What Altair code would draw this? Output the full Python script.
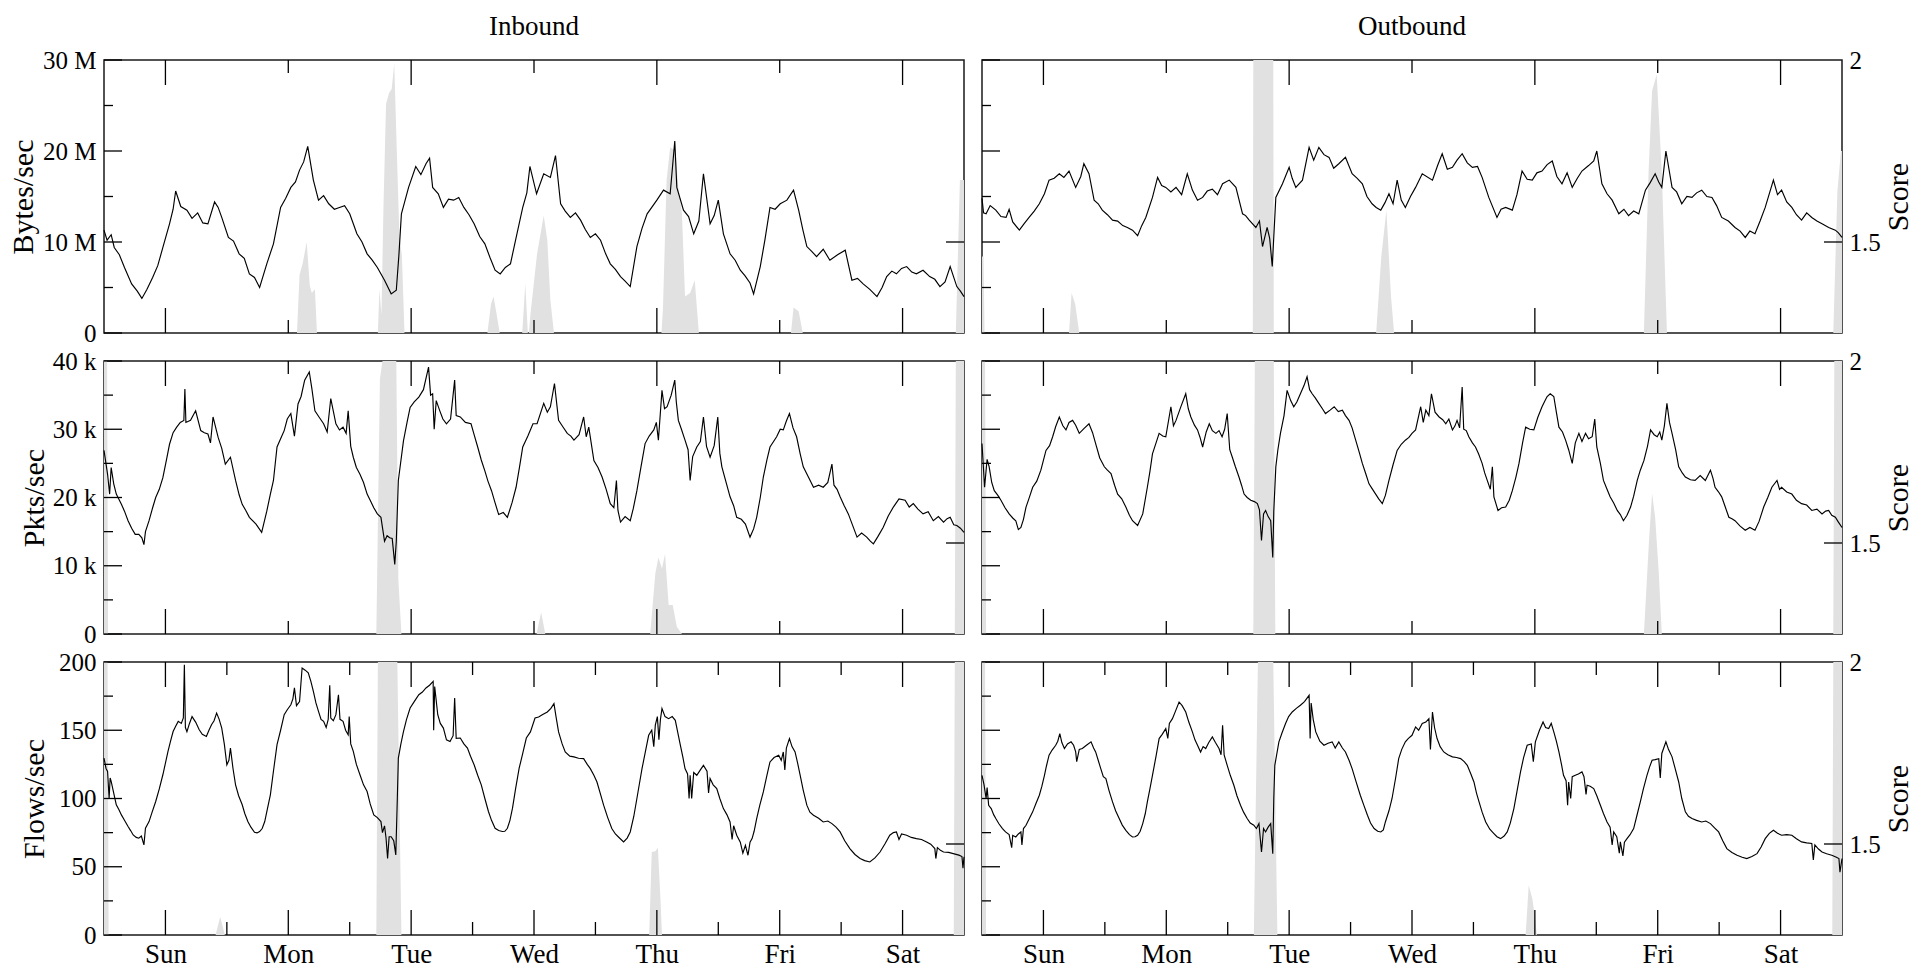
import altair as alt
import pandas as pd

# ---------------------------------------------------------------------------
# One week of traffic (hours since Sunday 00:00) and the anomaly score.
# Traffic series are (hour, value) pairs; score series are (hour, score).
# ---------------------------------------------------------------------------
DAYS = ["Sun", "Mon", "Tue", "Wed", "Thu", "Fri", "Sat"]

# Inbound bytes/sec, in millions
in_bytes = [
    (0, 11.3), (0.6, 10.2), (1.4, 10.8), (2, 9.4), (3, 8.6), (4, 7.2), (5.4, 5.4), (6.5, 4.6),
    (7.4, 3.8), (8.4, 4.8), (9.5, 6.1), (10.5, 7.4), (11.5, 9.4), (12.8, 12), (13.5, 13.6),
    (14, 15.6), (15, 13.9), (16.2, 13.5), (17.2, 12.6), (18.3, 13.2), (19.3, 12.1), (20.3, 12),
    (21.6, 14.4), (22.3, 13.8), (23, 12.7), (24.3, 10.5), (25.3, 10.1), (26.4, 8.7), (27.4, 8.2),
    (28.4, 6.5), (29.4, 6.1), (30.4, 5.0), (31.8, 7.6), (33.1, 9.8), (34.5, 13.8), (35.5, 14.8),
    (36.5, 16), (37.4, 16.6), (38.2, 17.9), (39, 18.8), (39.8, 20.5), (40.9, 16.8), (41.9, 14.6),
    (42.9, 15.1), (43.9, 14.2), (45, 13.6), (46, 13.8), (47, 14.0), (48, 13.1), (49.4, 10.9),
    (50.4, 10.0), (51.4, 8.7), (52.4, 8.0), (53.4, 7.2), (54.8, 5.8), (56.1, 4.3), (57.1, 4.7),
    (57.6, 8.5), (58.1, 13.1), (59.5, 16), (60.9, 18.3), (61.9, 17.4), (62.9, 18.6), (63.6, 19.2),
    (64.2, 16), (65.3, 15.3), (66.3, 13.8), (67.3, 14.7), (68.3, 14.6), (69.3, 14.9), (70.3, 13.8),
    (71.3, 13.0), (72.3, 12), (73.4, 10.6), (74.4, 9.8), (75.4, 8.3), (76.4, 6.9), (77.4, 6.5),
    (78.4, 7.2), (79.4, 7.6), (80.4, 10.2), (81.8, 13.8), (82.6, 15.4), (83.2, 18.3), (84.5, 15.3),
    (85.9, 17.5), (87.2, 17.1), (88.2, 19.5), (89.2, 14.2), (90.1, 13.4), (91.1, 12.7), (92.1, 13.2),
    (93.1, 12.4), (94, 11.4), (95, 10.5), (96, 10.9), (97, 10.2), (98, 8.7), (98.9, 7.6), (99.9, 7.0),
    (100.9, 6.2), (101.8, 5.7), (102.8, 5.1), (104.1, 9.5), (105.1, 11.5), (106.1, 13.1), (107, 13.8),
    (108, 14.6), (109.3, 15.7), (110.6, 15.3), (111.5, 21.1), (111.9, 16), (113.2, 13.5),
    (114.2, 12.8), (115.2, 10.9), (116.2, 12.3), (117.1, 17.5), (118.4, 12), (119.2, 12.9),
    (120, 14.6), (121, 10.9), (122.3, 8.7), (123.3, 8.0), (124.3, 6.9), (125.2, 6.3), (126.2, 5.5),
    (126.9, 4.3), (128.2, 7.3), (129.1, 10.2), (130.1, 13.8), (131.1, 13.6), (132.1, 14.2),
    (133.4, 14.6), (134.7, 15.7), (135.7, 13.5), (136.5, 11.4), (137.3, 9.5), (138.2, 9.0),
    (139.2, 8.4), (140.5, 9.2), (141.8, 8.0), (143.3, 8.6), (144.8, 9.1), (146.1, 5.8), (147.2, 6.0),
    (148.3, 5.4), (149.6, 4.8), (151, 4.0), (152, 5.0), (152.9, 6.2), (153.9, 6.8), (154.8, 6.5),
    (155.8, 7.1), (156.8, 7.3), (157.8, 6.7), (158.7, 6.5), (160, 6.9), (161.3, 6.2), (162.3, 5.9),
    (163.3, 5.1), (164.3, 5.6), (165.3, 7.3), (166.6, 5.1), (167.3, 4.6), (168, 4.0),
]

# Outbound bytes/sec, in millions
out_bytes = [
    (0, 14.8), (0.3, 13.2), (0.8, 13.1), (1.6, 14.0), (2.7, 13.5), (3.7, 12.8), (4.7, 12.7),
    (5.3, 13.6), (6, 12.2), (7.3, 11.3), (8.2, 12.0), (9.2, 12.7), (10.2, 13.4), (11.2, 14.2),
    (12.2, 15.3), (13.1, 16.8), (14.1, 17.0), (15.1, 17.5), (16, 17.1), (17, 17.8), (18.3, 16.0),
    (19.3, 17.2), (19.9, 18.6), (20.9, 17.5), (21.9, 14.6), (22.7, 14.2), (23.5, 13.5), (24.5, 13.0),
    (25.5, 12.4), (26.5, 12.3), (27.5, 11.8), (28.4, 11.6), (29.4, 11.3), (30.4, 10.7), (31.2, 11.8),
    (32, 12.7), (33.3, 14.9), (34.3, 17.1), (35.1, 16.2), (35.9, 16.0), (36.9, 15.5), (37.9, 16.0),
    (39, 15.2), (40.1, 17.5), (41.1, 15.7), (42.1, 14.6), (43.1, 14.9), (44, 15.6), (45, 15.8),
    (46, 15.2), (47, 16.4), (48.3, 16.8), (49.6, 16.0), (50.9, 13.1), (51.5, 12.9), (52.2, 12.4),
    (53.5, 11.6), (54.2, 12.3), (54.8, 9.5), (55.7, 11.6), (56.2, 10.4), (56.7, 7.3), (57.4, 14.9),
    (58.7, 16.4), (60, 18.2), (60.6, 17.0), (61.3, 16.0), (62.6, 16.8), (63.9, 20.4), (64.8, 19.0),
    (65.8, 20.4), (66.8, 19.6), (67.8, 19.3), (68.7, 18.1), (69.7, 18.6), (71, 19.3), (72.3, 17.5),
    (73.3, 17.0), (74.3, 16.4), (75.2, 15.0), (76.2, 14.2), (77, 13.8), (77.9, 13.5), (78.7, 14.3),
    (79.5, 15.3), (80.3, 14.2), (81.1, 16.8), (81.9, 14.6), (82.7, 13.8), (83.7, 15.0), (84.7, 16.0),
    (86, 17.5), (88, 16.8), (89, 18.4), (89.9, 19.7), (90.9, 18.0), (91.9, 18.2), (92.8, 19.0),
    (93.8, 19.7), (94.8, 18.7), (95.8, 18.2), (96.8, 18.3), (97.7, 17.1), (99, 14.9), (100.6, 12.7),
    (101.4, 13.6), (102.3, 13.8), (103.6, 13.5), (104.5, 15.2), (105.5, 17.8), (106.5, 16.9),
    (107.5, 16.8), (108.4, 17.6), (109.4, 17.8), (110.4, 18.5), (111.4, 18.9), (112.3, 17.2),
    (113.3, 16.4), (114.3, 17.6), (115.3, 16.0), (116.3, 17.0), (117.2, 17.8), (118.5, 18.4),
    (119.5, 18.9), (120.1, 20.0), (121.1, 16.4), (122.1, 15.3), (123.1, 14.6), (124.4, 13.1),
    (125.4, 13.6), (126.3, 12.9), (127.3, 13.4), (128.3, 13.1), (129.6, 15.7), (130.5, 16.5),
    (131.5, 17.5), (132.2, 16.6), (132.8, 16.0), (133.6, 20.0), (134.8, 16.0), (135.7, 15.5),
    (136.7, 14.2), (137.7, 15.0), (138.7, 14.9), (139.6, 15.4), (140.6, 15.7), (141.6, 15.0),
    (142.6, 14.9), (143.5, 14.0), (144.5, 12.7), (145.8, 12.3), (147.1, 11.6), (148.1, 11.2),
    (149.1, 10.5), (150, 11.2), (151, 10.9), (152, 12.3), (153, 13.8), (154.6, 16.8), (155.4, 15.2),
    (156.2, 15.7), (157.2, 14.4), (158.2, 13.8), (159.1, 13.0), (160.1, 12.4), (161.1, 13.2),
    (162.1, 12.7), (163.1, 12.3), (164.1, 12.0), (165.4, 11.6), (166.7, 11.3), (167.3, 11.0),
    (168, 10.5),
]

# Inbound packets/sec, in thousands
in_pkts = [
    (0, 26.9), (0.7, 23.4), (1.1, 20.5), (1.4, 24.4), (1.9, 22.0), (2.4, 20.5), (3.4, 19.0),
    (4, 18.0), (4.7, 16.6), (5.4, 15.5), (6.1, 14.6), (6.8, 14.6), (7.4, 14.1), (7.8, 13.1),
    (8.1, 15.0), (8.8, 16.6), (9.5, 18.5), (10.1, 20.0), (10.8, 21.2), (11.5, 22.9), (12.2, 25.5),
    (12.8, 27.8), (13.5, 29.5), (14.2, 30.3), (14.9, 31.0), (15.6, 31.3), (15.8, 35.9), (16.0, 31.0),
    (16.9, 31.3), (17.9, 32.7), (18.9, 29.8), (19.6, 29.5), (20.3, 29.3), (20.8, 28.0), (21.3, 31.8),
    (22.3, 28.8), (23, 27.2), (23.7, 24.9), (24.7, 25.9), (25.7, 22.5), (26.4, 20.4), (27, 19.0),
    (27.7, 18.1), (28.4, 17.1), (29.7, 16.1), (30.8, 14.9), (31.8, 18.0), (32.5, 20.5), (33.1, 22.5),
    (33.8, 27.4), (34.5, 28.6), (35.2, 29.8), (35.8, 31.5), (36.5, 32.3), (37.2, 29.0), (37.9, 33.7),
    (38.5, 34.8), (39.2, 37.2), (40.1, 38.4), (40.6, 36.0), (41.2, 32.7), (42, 31.8), (42.9, 30.8),
    (43.6, 29.6), (44.3, 34.5), (45.3, 30.8), (46, 29.9), (46.7, 30.3), (47.3, 29.4), (47.7, 32.7),
    (48.2, 27.5), (48.7, 25.9), (49.3, 24.4), (50, 23.4), (50.7, 22.2), (51.4, 20.5), (52, 19.6),
    (52.7, 18.5), (53.4, 17.6), (54.1, 17.1), (54.8, 13.6), (55.3, 14.4), (55.8, 14.1), (56.3, 14.0),
    (56.8, 10.2), (57.1, 13.6), (57.5, 22.5), (58.5, 28.3), (59.2, 31.0), (59.8, 33.2), (60.6, 34.0),
    (61.5, 34.7), (62.4, 35.8), (63.4, 39.1), (63.8, 35.0), (64.2, 35.2), (64.5, 30.0), (64.9, 34.2),
    (65.6, 32.7), (66.2, 31.5), (66.9, 30.8), (67.7, 31.5), (68.5, 37.2), (68.8, 32.0), (69.6, 31.8),
    (70.6, 31.0), (71.7, 30.8), (72.3, 29.2), (73, 27.4), (73.7, 25.5), (74.4, 23.9), (75, 22.4),
    (75.7, 21.0), (76.4, 19.2), (77.1, 17.5), (78, 17.8), (78.8, 17.1), (79.7, 19.2), (80.5, 21.5),
    (81.2, 24.6), (81.8, 27.4), (82.8, 29.0), (83.8, 30.8), (84.6, 30.8), (85.9, 33.8), (86.6, 32.5),
    (87.2, 33.3), (88, 36.7), (88.8, 31.3), (89.6, 30.4), (90.5, 29.4), (91.2, 29.0), (91.8, 28.4),
    (92.8, 29.2), (93.7, 31.8), (94.2, 28.9), (94.7, 30.3), (95.7, 25.4), (96.5, 24.4), (97.3, 23.0),
    (98.1, 21.2), (98.9, 19.1), (99.6, 18.5), (100.1, 22.5), (100.4, 18.1), (100.9, 16.4),
    (101.8, 17.2), (102.8, 16.6), (103.4, 18.4), (104.1, 21.0), (104.9, 24.5), (105.7, 27.9),
    (106.5, 29.0), (107.4, 29.9), (107.9, 31.0), (108.3, 28.4), (109, 35.7), (109.5, 33.0),
    (110, 33.3), (110.8, 35.0), (111.5, 37.2), (111.8, 34.0), (112.2, 31.3), (112.8, 30.0),
    (113.5, 28.4), (114.1, 27.0), (114.5, 22.5), (115, 26.0), (115.8, 27.4), (116.5, 28.2),
    (117.1, 31.8), (117.7, 27.5), (118.4, 25.9), (119.2, 27.6), (119.9, 31.8), (120.3, 26.5),
    (120.7, 24.5), (121.5, 22.3), (122.3, 20.1), (123, 18.8), (123.6, 17.1), (124.5, 16.8),
    (125.3, 16.1), (126.2, 14.2), (126.9, 15.4), (127.5, 17.1), (128.2, 20.0), (128.8, 23.0),
    (129.5, 25.5), (130.1, 27.4), (130.8, 28.2), (131.4, 28.9), (132.1, 30.0), (132.7, 29.9),
    (133.3, 31.2), (133.9, 32.3), (134.6, 30.2), (135.3, 28.9), (136, 26.4), (136.6, 24.5),
    (137.6, 23.0), (138.6, 21.5), (139.6, 21.8), (140.5, 21.5), (141.4, 22.2), (142.2, 24.9),
    (142.6, 21.8), (143.2, 21.2), (143.8, 20.1), (144.6, 18.8), (145.4, 17.6), (146.3, 15.8),
    (147.1, 14.2), (148, 14.8), (149, 14.2), (149.7, 13.6), (150.3, 13.2), (151.2, 14.3),
    (152.2, 15.6), (153.2, 17.3), (154.2, 18.6), (155.3, 19.8), (156.5, 19.6), (157.3, 18.6),
    (158.1, 19.1), (159, 18.3), (160, 17.6), (161, 17.9), (162, 16.6), (163, 17.2), (164, 16.4),
    (164.7, 16.9), (165.3, 17.1), (166, 16.0), (166.6, 15.9), (167.3, 15.5), (168, 14.9),
]

# Outbound packets/sec, in thousands
out_pkts = [
    (0, 27.9), (0.5, 21.5), (1.0, 25.6), (1.4, 24.5), (1.9, 22.2), (2.4, 21.0), (3.1, 20.3),
    (3.7, 19.6), (4.5, 18.5), (5.3, 17.6), (6.0, 17.0), (6.6, 16.6), (7.1, 15.3), (7.6, 15.6),
    (8.1, 16.8), (8.6, 18.6), (9.2, 19.9), (9.9, 21.5), (10.7, 22.4), (11.5, 24.0), (12.5, 26.9),
    (13.2, 27.6), (13.8, 28.9), (14.4, 30.4), (15.1, 31.8), (15.8, 30.5), (16.4, 29.9), (17.0, 31.0),
    (17.7, 31.3), (18.3, 30.6), (19, 29.4), (19.9, 30.1), (20.9, 30.8), (21.6, 29.5), (22.2, 27.9),
    (23.0, 25.8), (23.9, 24.5), (24.5, 24.0), (25.2, 23.5), (25.9, 21.8), (26.5, 20.5), (27.3, 19.8),
    (28.1, 18.6), (28.8, 17.4), (29.4, 16.6), (30.4, 15.9), (31.4, 17.6), (32.3, 21.5), (32.8, 23.8),
    (33.3, 26.4), (34.0, 28.0), (34.6, 29.4), (35.3, 29.0), (35.9, 28.9), (36.9, 33.3), (37.4, 30.5),
    (37.9, 31.3), (38.8, 33.2), (39.8, 35.2), (40.3, 33.0), (40.8, 31.8), (41.5, 30.6), (42.1, 29.9),
    (42.6, 28.8), (43.1, 27.4), (43.8, 29.6), (44.4, 30.8), (45.0, 29.8), (45.7, 29.4), (46.3, 29.8),
    (46.9, 28.9), (47.4, 30.0), (47.9, 32.3), (48.4, 27.0), (48.9, 25.9), (49.5, 24.5), (50.2, 23.0),
    (50.7, 21.8), (51.2, 20.5), (51.8, 20.0), (52.5, 19.6), (53.2, 19.4), (53.8, 19.1), (54.2, 18.2),
    (54.6, 13.7), (55.0, 17.6), (55.4, 18.1), (55.9, 17.2), (56.4, 16.6), (56.8, 11.2), (57.0, 18.0),
    (57.4, 24.5), (57.8, 27.0), (58.3, 29.4), (59.0, 32.0), (59.6, 35.7), (60.3, 34.2), (60.9, 33.3),
    (61.5, 34.0), (62.2, 35.2), (62.9, 36.4), (63.5, 37.7), (64.0, 35.8), (64.5, 35.2), (65.1, 34.6),
    (65.8, 33.8), (66.5, 33.0), (67.1, 32.3), (68.0, 32.8), (68.8, 33.3), (69.6, 32.6), (70.4, 32.8),
    (71.0, 32.0), (71.7, 31.3), (72.3, 30.2), (73.0, 28.4), (73.7, 26.6), (74.3, 25.0), (75.0, 23.4),
    (75.6, 22.0), (76.3, 21.2), (76.9, 20.5), (77.5, 19.8), (78.2, 19.1), (78.8, 20.3), (79.5, 22.5),
    (80.3, 24.8), (81.1, 26.9), (81.9, 27.8), (82.7, 28.4), (83.4, 28.8), (84.0, 29.4), (84.7, 29.9),
    (85.7, 33.3), (86.2, 31.0), (86.7, 32.8), (87.3, 32.0), (87.8, 35.2), (88.5, 32.5), (89.3, 31.8),
    (90.0, 31.4), (90.6, 30.8), (91.2, 31.5), (91.9, 29.9), (92.4, 30.5), (92.8, 31.3), (93.3, 30.2),
    (93.8, 36.2), (94.1, 30.0), (94.6, 29.8), (95.1, 28.9), (95.8, 28.0), (96.4, 27.4), (97.0, 26.4),
    (97.7, 25.0), (98.2, 23.6), (98.7, 22.5), (99.3, 21.2), (99.7, 24.5), (100.0, 20.1),
    (100.8, 18.1), (101.5, 18.5), (102.3, 18.6), (103.0, 19.6), (103.6, 21.0), (104.3, 23.0),
    (104.9, 25.0), (105.6, 28.0), (106.2, 30.3), (107.0, 30.0), (107.8, 29.9), (108.6, 31.8),
    (109.4, 33.3), (110.0, 34.2), (110.4, 34.8), (111.0, 35.2), (111.7, 34.8), (112.2, 32.5),
    (112.7, 30.3), (113.4, 29.6), (114.0, 28.4), (114.6, 27.0), (115.3, 25.0), (115.9, 28.0),
    (116.6, 29.4), (117.2, 28.2), (117.9, 29.4), (118.5, 28.6), (119.2, 28.9), (119.7, 31.5),
    (120.1, 27.4), (120.8, 25.0), (121.4, 22.5), (122.1, 21.2), (122.7, 20.1), (123.4, 19.2),
    (124.1, 18.1), (124.7, 17.5), (125.3, 16.6), (126.0, 17.4), (126.7, 18.6), (127.3, 20.2),
    (128.0, 22.5), (128.6, 24.0), (129.3, 25.4), (130.0, 27.5), (130.6, 29.9), (131.3, 29.2),
    (131.9, 28.9), (132.4, 29.6), (132.8, 28.4), (133.3, 30.5), (133.8, 33.8), (134.3, 31.0),
    (134.8, 29.4), (135.5, 27.0), (136.1, 24.5), (136.8, 23.6), (137.4, 23.0), (138.4, 22.6),
    (139.3, 22.5), (140.3, 23.2), (141.3, 22.5), (142.3, 24.0), (142.8, 22.8), (143.2, 21.5),
    (143.9, 20.8), (144.5, 20.1), (145.2, 18.6), (145.9, 17.1), (146.5, 16.9), (147.1, 16.6),
    (148.1, 15.8), (149.1, 15.2), (150.0, 15.6), (151.0, 15.2), (151.8, 16.5), (152.7, 18.6),
    (153.5, 20.0), (154.3, 21.5), (155.3, 22.5), (155.8, 21.2), (156.2, 21.5), (157.2, 20.8),
    (158.2, 20.5), (159.1, 19.6), (160.1, 19.1), (161.1, 18.9), (162.1, 18.1), (163.1, 18.3),
    (164.1, 17.6), (164.8, 18.0), (165.4, 18.1), (166.0, 17.4), (166.7, 17.1), (167.3, 16.4),
    (168, 15.6),
]

# Inbound flows/sec
in_flows = [
    (0, 129.6), (0.4, 122.0), (0.7, 119.8), (1.0, 100.0), (1.2, 115.0), (1.4, 112.5), (1.9, 104.0),
    (2.4, 95.4), (2.9, 92.0), (3.4, 88.0), (4.0, 84.0), (4.7, 79.5), (5.2, 76.5), (5.7, 73.3),
    (6.3, 71.5), (6.8, 70.9), (7.3, 72.5), (7.8, 66.0), (8.1, 78.2), (8.8, 83.1), (9.4, 90.0),
    (10.1, 97.8), (10.8, 107.0), (11.5, 117.4), (12.0, 126.0), (12.5, 134.5), (13.0, 142.0),
    (13.5, 149.1), (14.0, 153.0), (14.5, 156.5), (15.1, 155.0), (15.5, 159.0), (15.7, 198.0),
    (15.9, 152.0), (16.2, 149.0), (16.7, 155.0), (17.2, 160.0), (17.9, 156.0), (18.6, 150.4),
    (19.2, 147.0), (20.0, 145.5), (20.5, 150.0), (21.0, 154.0), (21.5, 157.0), (22.0, 162.6),
    (22.5, 158.0), (23.0, 151.6), (23.5, 140.0), (24.0, 124.7), (24.4, 128.0), (24.7, 136.9),
    (25.2, 122.0), (25.7, 110.0), (26.3, 102.0), (27.0, 95.4), (27.5, 89.0), (28.1, 83.1),
    (28.7, 79.0), (29.4, 75.3), (29.9, 74.8), (30.4, 75.8), (30.9, 78.0), (31.4, 83.1), (31.9, 92.0),
    (32.5, 102.7), (33.1, 120.0), (33.8, 139.4), (34.5, 150.0), (35.2, 161.4), (35.8, 165.0),
    (36.5, 168.7), (36.9, 173.0), (37.2, 181.0), (37.6, 168.0), (38.2, 171.0), (38.7, 195.6),
    (39.3, 194.0), (39.9, 192.0), (40.4, 186.0), (40.9, 178.5), (41.4, 170.0), (41.9, 163.8),
    (42.4, 158.0), (42.9, 156.5), (43.4, 152.0), (43.8, 158.0), (44.1, 183.0), (44.3, 158.9),
    (44.8, 157.0), (45.3, 161.4), (45.8, 176.0), (46.1, 158.0), (46.7, 156.5), (47.2, 150.0),
    (47.7, 146.7), (47.9, 160.0), (48.2, 140.0), (48.7, 134.5), (49.3, 125.0), (50.0, 117.4),
    (50.7, 110.0), (51.4, 105.1), (52.0, 96.0), (52.7, 88.0), (53.4, 86.0), (54.1, 83.1),
    (54.4, 75.0), (54.8, 80.0), (55.1, 70.9), (55.4, 56.0), (55.7, 72.0), (56.1, 72.0), (56.6, 69.0),
    (57.0, 58.7), (57.3, 100.0), (57.5, 129.6), (58.0, 140.0), (58.5, 149.0), (59.1, 158.0),
    (59.8, 166.3), (60.6, 171.0), (61.5, 176.0), (62.2, 178.0), (62.9, 181.0), (63.6, 183.0),
    (64.3, 185.8), (64.4, 150.0), (64.6, 182.0), (65.2, 161.4), (65.7, 155.0), (66.3, 151.6),
    (66.9, 143.0), (67.6, 141.8), (68.2, 146.0), (68.5, 173.6), (68.8, 144.0), (69.6, 144.3),
    (70.3, 140.0), (71.0, 136.9), (71.6, 131.0), (72.3, 124.7), (73.0, 117.0), (73.7, 110.0),
    (74.4, 100.0), (75.1, 90.5), (75.7, 84.0), (76.4, 78.2), (77.1, 76.5), (77.8, 75.8), (78.3, 76.0),
    (78.8, 78.2), (79.3, 84.0), (79.8, 92.9), (80.4, 107.0), (81.1, 122.2), (81.8, 133.0),
    (82.5, 144.3), (83.3, 148.8), (84.2, 159.0), (84.9, 159.7), (85.7, 161.5), (86.6, 163.4),
    (87.3, 166.0), (87.9, 169.5), (88.3, 160.0), (88.8, 148.8), (89.5, 140.0), (90.1, 134.1),
    (91.0, 131.0), (91.8, 130.5), (92.7, 129.5), (93.7, 129.2), (94.4, 125.0), (95.0, 121.9),
    (95.7, 117.0), (96.3, 112.1), (97.0, 103.0), (97.6, 95.1), (98.4, 86.0), (99.2, 78.0),
    (99.9, 74.0), (100.5, 71.8), (101.5, 68.2), (102.2, 71.0), (102.8, 75.5), (103.5, 87.0),
    (104.1, 100.0), (104.6, 111.0), (105.1, 121.9), (105.8, 135.0), (106.4, 146.3), (107.0, 150.0),
    (107.4, 138.0), (107.7, 153.7), (108.1, 160.0), (108.4, 143.0), (108.7, 158.0), (109.0, 165.9),
    (109.6, 160.0), (110.3, 158.5), (111.0, 160.0), (111.6, 157.3), (112.1, 148.0), (112.6, 139.0),
    (113.1, 130.0), (113.5, 121.9), (114.0, 118.0), (114.3, 100.0), (114.5, 117.0), (114.8, 100.0),
    (115.2, 119.0), (115.8, 117.0), (116.5, 121.0), (117.1, 124.3), (117.8, 120.0), (118.1, 104.0),
    (118.4, 114.6), (119.0, 110.0), (119.7, 107.3), (120.3, 100.0), (121.0, 92.6), (121.7, 88.0),
    (122.3, 82.8), (122.7, 70.0), (123.0, 80.0), (123.6, 73.1), (124.3, 68.0), (124.8, 60.0),
    (125.3, 65.7), (125.8, 58.4), (126.2, 68.0), (126.6, 70.6), (127.0, 76.0), (127.5, 85.3),
    (128.1, 95.0), (128.8, 104.8), (129.5, 117.0), (130.1, 126.8), (130.9, 130.0), (131.8, 131.7),
    (132.3, 128.0), (132.7, 134.1), (133.0, 121.0), (133.3, 137.0), (133.9, 143.9), (134.4, 138.0),
    (135.0, 134.1), (135.5, 126.0), (136.0, 117.0), (136.6, 106.0), (137.3, 95.1), (137.9, 90.0),
    (138.6, 87.7), (139.6, 85.5), (140.5, 82.8), (141.4, 83.5), (142.2, 81.6), (143.0, 79.0),
    (143.8, 75.5), (144.7, 69.0), (145.7, 63.3), (146.7, 59.0), (147.7, 56.0), (148.6, 54.5),
    (149.6, 53.5), (150.6, 56.5), (151.6, 60.8), (152.6, 67.0), (153.5, 73.1), (154.2, 75.0),
    (154.8, 75.5), (155.3, 70.0), (155.8, 74.0), (156.8, 73.1), (157.7, 71.5), (158.7, 70.6),
    (159.7, 70.0), (160.7, 68.2), (161.5, 66.5), (162.3, 63.3), (162.5, 56.0), (162.8, 64.0),
    (163.4, 62.0), (164.0, 60.8), (165.0, 60.5), (165.9, 59.6), (167.0, 58.5), (167.6, 57.5),
    (167.8, 49.0), (168, 57.2),
]

# Outbound flows/sec
out_flows = [
    (0, 117.0), (0.4, 110.0), (0.8, 100.0), (1.0, 108.0), (1.3, 95.0), (1.8, 92.6), (2.3, 88.0),
    (2.7, 85.3), (3.3, 81.5), (4.0, 78.0), (4.6, 75.5), (5.3, 73.6), (5.8, 64.0), (6.0, 73.0),
    (6.6, 71.8), (7.1, 74.0), (7.6, 75.5), (7.8, 66.0), (8.1, 78.0), (8.6, 80.4), (9.2, 85.0),
    (9.9, 90.2), (10.5, 96.0), (11.2, 102.4), (11.7, 109.0), (12.2, 117.0), (12.6, 124.0),
    (13.1, 131.7), (13.7, 135.5), (14.4, 139.0), (14.8, 142.0), (15.2, 147.5), (15.6, 141.0),
    (16.1, 136.6), (16.7, 140.0), (17.4, 141.5), (17.9, 139.0), (18.3, 134.1), (18.5, 127.0),
    (19.0, 136.0), (19.6, 136.6), (20.4, 139.0), (21.3, 141.5), (21.8, 137.0), (22.2, 134.1),
    (22.7, 128.0), (23.2, 121.9), (23.7, 116.0), (24.2, 114.6), (24.8, 106.0), (25.5, 97.5),
    (26.1, 91.0), (26.8, 85.3), (27.4, 80.5), (28.1, 76.7), (28.8, 73.5), (29.4, 71.8), (29.9, 72.0),
    (30.4, 73.1), (30.9, 76.0), (31.4, 81.6), (31.9, 89.0), (32.3, 97.5), (32.8, 107.0),
    (33.3, 117.0), (34.0, 131.0), (34.6, 143.9), (35.2, 147.0), (35.9, 151.2), (36.3, 144.0),
    (36.6, 155.0), (37.2, 158.5), (37.8, 164.0), (38.5, 170.7), (39.1, 168.0), (39.8, 163.4),
    (40.4, 156.0), (41.1, 148.8), (41.6, 143.0), (42.1, 139.0), (42.7, 134.0), (43.2, 138.0),
    (43.7, 136.6), (44.3, 141.0), (45.0, 145.1), (45.6, 141.0), (46.3, 136.6), (46.7, 132.0),
    (47.0, 153.7), (47.3, 132.0), (47.9, 124.3), (48.5, 117.0), (49.2, 109.7), (49.8, 102.0),
    (50.5, 95.1), (51.1, 90.0), (51.8, 85.3), (52.4, 82.0), (53.1, 80.4), (53.6, 78.0), (54.1, 81.6),
    (54.6, 60.8), (55.0, 78.0), (55.4, 75.5), (55.9, 79.0), (56.4, 81.6), (56.8, 59.6), (57.0, 100.0),
    (57.2, 124.3), (58.0, 141.5), (58.6, 148.0), (59.3, 154.9), (59.9, 160.0), (60.6, 163.4),
    (61.4, 166.0), (62.2, 168.3), (63.0, 171.0), (63.9, 175.6), (64.1, 143.9), (64.3, 170.0),
    (64.7, 158.0), (65.2, 148.8), (66.0, 142.0), (66.8, 139.0), (67.6, 140.5), (68.4, 141.5),
    (69.0, 137.0), (69.7, 141.5), (70.4, 137.0), (71.0, 134.1), (71.7, 128.0), (72.3, 121.9),
    (73.1, 112.0), (73.9, 102.4), (74.6, 95.0), (75.3, 87.7), (75.9, 82.0), (76.6, 78.0),
    (77.3, 76.0), (77.9, 75.5), (78.4, 77.0), (78.8, 82.8), (79.5, 91.0), (80.1, 100.0),
    (80.8, 115.0), (81.4, 129.2), (82.0, 136.0), (82.7, 141.5), (83.3, 144.0), (84.0, 146.3),
    (84.7, 152.4), (85.3, 150.0), (86.0, 154.9), (86.7, 156.0), (87.3, 158.5), (87.6, 136.0),
    (88.0, 163.4), (88.4, 152.0), (88.9, 143.9), (89.5, 138.0), (90.2, 134.1), (91.0, 132.0),
    (91.9, 130.5), (92.7, 130.0), (93.5, 129.2), (94.2, 127.0), (94.8, 124.3), (95.5, 118.0),
    (96.1, 112.1), (96.6, 104.0), (97.1, 97.5), (97.7, 90.0), (98.4, 82.8), (99.2, 77.5),
    (100.0, 74.3), (100.6, 72.0), (101.3, 70.6), (102.0, 72.5), (102.6, 75.5), (103.2, 82.0),
    (103.9, 92.6), (104.5, 105.0), (105.2, 119.5), (105.8, 130.0), (106.5, 139.0), (107.3, 140.0),
    (107.7, 127.0), (108.1, 141.5), (108.9, 150.0), (109.6, 156.1), (110.1, 152.0), (110.7, 151.2),
    (111.2, 155.0), (111.7, 148.8), (112.2, 142.0), (112.7, 134.1), (113.2, 125.0), (113.6, 117.0),
    (114.1, 113.0), (114.4, 95.0), (114.6, 112.1), (115.0, 100.0), (115.3, 116.0), (115.9, 117.0),
    (116.5, 118.0), (117.2, 119.5), (117.6, 116.0), (118.0, 103.0), (118.2, 109.7), (118.8, 109.0),
    (119.5, 107.3), (120.1, 102.0), (120.8, 95.1), (121.4, 89.0), (122.1, 82.8), (122.7, 79.0),
    (123.1, 66.0), (123.4, 75.5), (124.0, 72.0), (124.5, 60.0), (124.7, 68.2), (125.2, 58.0),
    (125.5, 68.0), (126.0, 70.6), (126.6, 73.5), (127.3, 78.0), (127.9, 87.0), (128.6, 97.5),
    (129.2, 107.0), (129.9, 117.0), (130.4, 123.0), (130.9, 128.0), (131.5, 128.5), (132.2, 129.2),
    (132.5, 115.0), (132.8, 133.0), (133.6, 141.5), (134.1, 136.0), (134.8, 130.5), (135.4, 122.0),
    (136.1, 112.1), (136.7, 100.0), (137.4, 90.2), (138.0, 87.0), (138.7, 85.3), (139.6, 84.0),
    (140.6, 82.8), (141.4, 83.5), (142.3, 81.6), (143.1, 78.5), (143.9, 75.5), (144.7, 69.0),
    (145.5, 63.3), (146.5, 60.5), (147.5, 58.4), (148.5, 57.0), (149.4, 56.0), (150.4, 57.5),
    (151.4, 59.6), (152.2, 64.5), (153.0, 70.6), (153.8, 74.5), (154.6, 76.7), (155.4, 74.5),
    (156.2, 73.1), (157.2, 73.5), (158.2, 73.1), (159.1, 70.5), (160.1, 68.2), (161.1, 67.5),
    (162.1, 67.0), (162.4, 55.0), (162.7, 66.0), (163.4, 63.0), (164.1, 60.8), (165.0, 59.5),
    (166.0, 58.4), (166.8, 57.2), (167.4, 56.0), (167.6, 46.0), (168, 56.0),
]

# Anomaly scores (right axis, 1.25 .. 2)
in_bytes_score = [
    (0, 1.25), (37.7, 1.25), (38.2, 1.41), (38.8, 1.44), (39.6, 1.5), (40.2, 1.38), (40.6, 1.36),
    (41.2, 1.37), (41.6, 1.25), (53.5, 1.25), (53.8, 1.37), (54.2, 1.3), (54.6, 1.6), (55.1, 1.88),
    (55.7, 1.91), (56.2, 1.92), (56.7, 1.99), (57.2, 1.75), (57.7, 1.52), (58.2, 1.46), (58.7, 1.25),
    (74.9, 1.25), (75.6, 1.33), (76.1, 1.35), (76.6, 1.31), (77.3, 1.25), (81.7, 1.25), (82.3, 1.385),
    (82.8, 1.25), (83.0, 1.25), (83.3, 1.30), (84.6, 1.468), (85.9, 1.573), (86.6, 1.505),
    (87.2, 1.34), (87.9, 1.25), (108.9, 1.25), (109.2, 1.32), (109.9, 1.669), (110.6, 1.76),
    (111.6, 1.75), (112.2, 1.65), (112.9, 1.578), (113.5, 1.35), (114.5, 1.36), (115.4, 1.395),
    (116.2, 1.25), (134.2, 1.25), (134.7, 1.32), (135.7, 1.31), (136.5, 1.25), (166.4, 1.25),
    (167.2, 1.67), (168, 1.67),
]
out_bytes_score = [
    (0, 1.46), (0.3, 1.46), (0.5, 1.25), (17.0, 1.25), (17.5, 1.36), (18.2, 1.33), (19.0, 1.25),
    (52.9, 1.25), (53.0, 2.0), (56.9, 2.0), (57.0, 1.25), (77.0, 1.25), (78.0, 1.46), (79.0, 1.587),
    (79.9, 1.35), (80.5, 1.25), (129.3, 1.25), (130.2, 1.687), (130.9, 1.915), (131.8, 1.96),
    (132.8, 1.69), (133.8, 1.25), (166.3, 1.25), (167.1, 1.64), (167.8, 1.75), (168, 1.75),
]
in_pkts_score = [
    (0, 2.0), (0.6, 2.0), (0.8, 1.25), (53.2, 1.25), (53.9, 1.95), (54.4, 2.0), (57.1, 2.0),
    (57.5, 1.40), (58.1, 1.25), (84.5, 1.25), (85.4, 1.31), (86.2, 1.25), (106.7, 1.25),
    (107.7, 1.416), (108.3, 1.46), (109.0, 1.43), (109.6, 1.47), (110.3, 1.33), (111.1, 1.33),
    (111.9, 1.27), (112.9, 1.25), (166.2, 1.25), (166.4, 2.0), (168, 2.0),
]
out_pkts_score = [
    (0, 2.0), (0.6, 2.0), (0.8, 1.25), (53.0, 1.25), (53.3, 2.0), (57.0, 2.0), (57.3, 1.25),
    (129.3, 1.25), (130.3, 1.507), (130.9, 1.636), (131.5, 1.57), (132.2, 1.42), (132.8, 1.25),
    (166.3, 1.25), (166.5, 2.0), (168, 2.0),
]
in_flows_score = [
    (0, 2.0), (0.7, 2.0), (0.9, 1.25), (21.8, 1.25), (22.7, 1.30), (23.6, 1.25), (53.2, 1.25),
    (53.5, 2.0), (57.3, 2.0), (58.1, 1.25), (106.5, 1.25), (107.0, 1.478), (107.7, 1.48),
    (108.2, 1.49), (108.7, 1.35), (109.0, 1.25), (166.0, 1.25), (166.2, 2.0), (168, 2.0),
]
out_flows_score = [
    (0, 2.0), (0.6, 2.0), (0.8, 1.25), (53.1, 1.25), (53.9, 2.0), (56.9, 2.0), (57.7, 1.25),
    (106.2, 1.25), (106.8, 1.387), (107.5, 1.35), (108.0, 1.30), (108.4, 1.25), (166.1, 1.25),
    (166.3, 2.0), (168, 2.0),
]

# Axis settings for each metric row
ROWS = [
    dict(title="Bytes/sec", domain=[0, 30], major=[0, 10, 20, 30], minor=[5, 15, 25], unit=" M",
         series=(in_bytes, out_bytes), scores=(in_bytes_score, out_bytes_score), title_x=-81),
    dict(title="Pkts/sec", domain=[0, 40], major=[0, 10, 20, 30, 40], minor=[5, 15, 25, 35], unit=" k",
         series=(in_pkts, out_pkts), scores=(in_pkts_score, out_pkts_score), title_x=-70),
    dict(title="Flows/sec", domain=[0, 200], major=[0, 50, 100, 150, 200], minor=[25, 75, 125, 175], unit="",
         series=(in_flows, out_flows), scores=(in_flows_score, out_flows_score), title_x=-70),
]
COLUMNS = ["Inbound", "Outbound"]
SCORE_DOMAIN = [1.25, 2]
SCORE_LABELS = [1.5, 2]

FONT = "Liberation Serif"
TICK_SIZE = 25
TEXT_SIZE = 27
TITLE_SIZE = 30
W, H = 860, 273
GREY = "#e1e1e1"
INK = "black"
LONG_TICK, SHORT_TICK, Y_LONG, Y_SHORT = 25, 13, 18, 9

NOONS = [12 + 24 * i for i in range(len(DAYS))]
MIDNIGHTS = [24 * i for i in range(1, len(DAYS))]
DAY_EXPR = "[" + ",".join("'%s'" % d for d in DAYS) + "][floor(datum.value / 24)]"


def tick_rules(df, enc_field, scale, length, side, x_axis=None):
    """Inward-pointing tick marks drawn as rules."""
    base = alt.Chart(df).mark_rule(color=INK, strokeWidth=1.3)
    if side == "top":
        return base.encode(x=alt.X(enc_field, scale=scale, axis=x_axis), y=alt.value(0), y2=alt.value(length))
    if side == "bottom":
        return base.encode(x=alt.X(enc_field, scale=scale, axis=x_axis), y=alt.value(H), y2=alt.value(H - length))
    if side == "left":
        return base.encode(y=alt.Y(enc_field, scale=scale, axis=None), x=alt.value(0), x2=alt.value(length))
    return base.encode(y=alt.Y(enc_field, scale=scale, axis=None), x=alt.value(W - length), x2=alt.value(W))


def panel(row_idx, col_idx):
    row = ROWS[row_idx]
    bottom = row_idx == len(ROWS) - 1
    xscale = alt.Scale(domain=[0, 168], nice=False, zero=False)
    yscale = alt.Scale(domain=row["domain"], nice=False, zero=False)
    sscale = alt.Scale(domain=SCORE_DOMAIN, nice=False, zero=False)

    line_df = pd.DataFrame(row["series"][col_idx], columns=["hour", "value"])
    score_df = pd.DataFrame(row["scores"][col_idx], columns=["hour", "score"])

    if col_idx == 1:
        score_axis = alt.Axis(
            orient="right", values=SCORE_LABELS, format="~g", ticks=False, domain=False, grid=False,
            labelFont=FONT, labelFontSize=TICK_SIZE, labelColor=INK, labelPadding=7, labelOverlap=False,
            title="Score", titleFont=FONT, titleFontSize=TITLE_SIZE, titleFontWeight="normal",
            titleColor=INK, titleAngle=270, titleX=56, titleY=H / 2, titleAlign="center",
            titleBaseline="middle",
        )
    else:
        score_axis = None

    if col_idx == 0:
        label_expr = "datum.value == 0 ? '0' : datum.value + '%s'" % row["unit"]
        value_axis = alt.Axis(
            values=row["major"], labelExpr=label_expr, ticks=False, domain=False, grid=False,
            labelFont=FONT, labelFontSize=TICK_SIZE, labelColor=INK, labelPadding=8, labelOverlap=False,
            title=row["title"], titleFont=FONT, titleFontSize=TITLE_SIZE, titleFontWeight="normal",
            titleColor=INK, titleAngle=270, titleX=row["title_x"], titleY=H / 2, titleAlign="center",
            titleBaseline="middle",
        )
    else:
        value_axis = None

    if bottom:
        x_axis = alt.Axis(
            values=NOONS, labelExpr=DAY_EXPR, ticks=False, domain=False, grid=False,
            labelFont=FONT, labelFontSize=TEXT_SIZE, labelColor=INK, labelPadding=6,
            labelOverlap=False, labelFlush=False, title=None,
        )
    else:
        x_axis = None

    area = alt.Chart(score_df).mark_area(color=GREY, opacity=1).encode(
        x=alt.X("hour:Q", scale=xscale, axis=x_axis),
        y=alt.Y("score:Q", scale=sscale, axis=score_axis),
        y2=alt.datum(SCORE_DOMAIN[0]),
    )
    line = alt.Chart(line_df).mark_line(color=INK, strokeWidth=1.15).encode(
        x=alt.X("hour:Q", scale=xscale, axis=x_axis),
        y=alt.Y("value:Q", scale=yscale, axis=value_axis),
    )

    # x tick positions: every day at noon, long/short alternating, or noon/midnight on the last row
    if bottom:
        long_x, short_x = NOONS, MIDNIGHTS
    else:
        long_x, short_x = NOONS[0::2], NOONS[1::2]
    long_df = pd.DataFrame({"hour": long_x})
    short_df = pd.DataFrame({"hour": short_x})
    major_df = pd.DataFrame({"value": row["major"]})
    minor_df = pd.DataFrame({"value": row["minor"]})
    score_tick_df = pd.DataFrame({"score": SCORE_LABELS[:1]})

    layers = [
        area,
        line,
        tick_rules(long_df, "hour:Q", xscale, LONG_TICK, "top", x_axis),
        tick_rules(long_df, "hour:Q", xscale, LONG_TICK, "bottom", x_axis),
        tick_rules(short_df, "hour:Q", xscale, SHORT_TICK, "top", x_axis),
        tick_rules(short_df, "hour:Q", xscale, SHORT_TICK, "bottom", x_axis),
        tick_rules(major_df, "value:Q", yscale, Y_LONG, "left"),
        tick_rules(minor_df, "value:Q", yscale, Y_SHORT, "left"),
        tick_rules(score_tick_df, "score:Q", sscale, Y_LONG, "right"),
    ]
    if row_idx == 0:
        # column heading above the top row
        heading = alt.Chart(pd.DataFrame({"label": [COLUMNS[col_idx]]})).mark_text(
            font=FONT, fontSize=TEXT_SIZE, color=INK, align="center", baseline="alphabetic"
        ).encode(x=alt.value(W / 2), y=alt.value(-25), text="label:N")
        layers.append(heading)
    return alt.layer(*layers).resolve_scale(y="independent").properties(width=W, height=H)


panels = [panel(r, c) for r in range(len(ROWS)) for c in range(len(COLUMNS))]

chart = (
    alt.concat(*panels, columns=2, spacing=alt.RowColnumber(row=28, column=18), bounds="flush")
    .properties(padding={"left": 7, "top": 12, "right": 5, "bottom": 2}, background="white")
    .configure_view(stroke="#1a1a1a", strokeWidth=1.5)
)

chart.save("out.html", embed_options={"renderer": "svg", "actions": False})
